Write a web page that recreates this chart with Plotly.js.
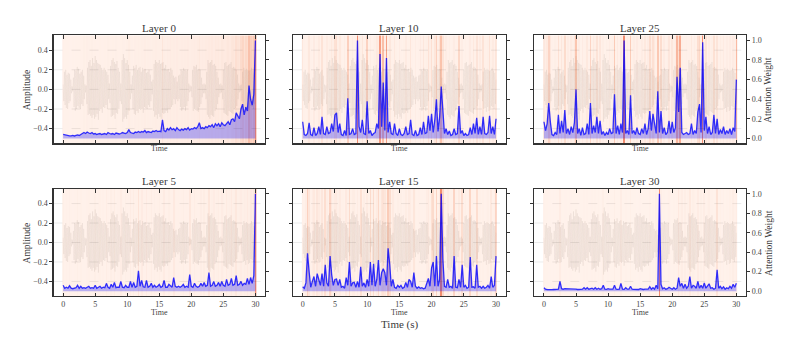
<!DOCTYPE html>
<html>
<head>
<meta charset="utf-8">
<script src="https://cdn.plot.ly/plotly-3.0.1.min.js"></script>
<style>
  body { margin: 0; background: #fff; }
  #chart { width: 793px; height: 340px; }
</style>
</head>
<body>
<div id="chart"></div>
<script>
// time steps (s) of the two series
const waveStep = 0.1;
const attnStep = 0.25;

// audio waveform, 0..30 s every 0.1 s (shared by all panels)
const waveform = [
  0.05,-0.12,0.18,-0.16,0.2,-0.19,0.15,-0.2,0.17,-0.14,
  0.16,-0.12,0.1,-0.04,0.03,-0.02,0.12,-0.18,0.2,-0.22,
  0.19,-0.2,0.23,-0.17,0.21,-0.19,0.16,-0.2,0.18,-0.15,
  0.2,-0.17,0.14,-0.1,0.05,-0.03,0.04,-0.15,0.22,-0.26,
  0.28,-0.25,0.3,-0.27,0.24,-0.29,0.32,-0.26,0.27,-0.3,
  0.34,-0.28,0.3,-0.25,0.27,-0.31,0.26,-0.22,0.25,-0.2,
  0.22,-0.24,0.2,-0.18,0.22,-0.19,0.2,-0.16,0.18,-0.2,
  0.15,-0.1,0.06,-0.14,0.24,-0.28,0.3,-0.27,0.32,-0.26,
  0.28,-0.3,0.26,-0.24,0.29,-0.25,0.22,-0.2,0.18,-0.12,
  0.06,-0.15,0.3,-0.33,0.36,-0.3,0.32,-0.28,0.27,-0.3,
  0.3,-0.26,0.25,-0.22,0.18,-0.1,0.05,-0.04,0.14,-0.2,
  0.24,-0.25,0.22,-0.26,0.25,-0.22,0.2,-0.24,0.22,-0.2,
  0.23,-0.21,0.18,-0.2,0.22,-0.24,0.2,-0.18,0.21,-0.19,
  0.17,-0.2,0.18,-0.16,0.2,-0.18,0.15,-0.12,0.08,-0.05,
  0.1,-0.22,0.26,-0.28,0.3,-0.26,0.28,-0.3,0.27,-0.25,
  0.3,-0.28,0.26,-0.3,0.27,-0.24,0.28,-0.25,0.22,-0.24,
  0.25,-0.22,0.2,-0.24,0.21,-0.2,0.18,-0.2,0.22,-0.18,
  0.2,-0.16,0.14,-0.1,0.12,-0.15,0.13,-0.1,0.08,-0.12,
  0.14,-0.1,0.15,-0.18,0.2,-0.22,0.19,-0.2,0.22,-0.18,
  0.2,-0.22,0.19,-0.17,0.2,-0.12,0.06,-0.03,0.04,-0.02,
  0.03,-0.08,0.2,-0.22,0.24,-0.2,0.23,-0.21,0.25,-0.22,
  0.2,-0.23,0.21,-0.18,0.2,-0.15,0.12,-0.08,0.05,-0.04,
  0.06,-0.04,0.05,-0.1,0.18,-0.26,0.3,-0.28,0.27,-0.3,
  0.28,-0.26,0.3,-0.27,0.25,-0.28,0.26,-0.22,0.24,-0.2,
  0.18,-0.15,0.12,-0.08,0.05,-0.04,0.06,-0.03,0.04,-0.1,
  0.2,-0.24,0.27,-0.25,0.28,-0.26,0.24,-0.27,0.25,-0.22,
  0.26,-0.23,0.28,-0.24,0.22,-0.25,0.23,-0.2,0.22,-0.19,
  0.2,-0.17,0.15,-0.1,0.06,-0.03,0.04,-0.02,0.05,-0.12,
  0.18,-0.2,0.22,-0.19,0.2,-0.23,0.21,-0.18,0.2,-0.22,
  0.19,-0.21,0.2,-0.17,0.22,-0.18,0.19,-0.2,0.17,-0.15,
  0.1
];

// attention weights per layer, 0..30 s every 0.25 s
const att0 = [
  0.04,0.035,0.03,0.03,0.025,0.025,0.03,0.025,0.03,0.035,0.03,0.04,
  0.045,0.06,0.05,0.065,0.055,0.05,0.06,0.045,0.05,0.04,0.045,0.05,
  0.04,0.045,0.05,0.04,0.06,0.05,0.045,0.05,0.04,0.055,0.05,0.045,
  0.05,0.06,0.055,0.05,0.06,0.09,0.06,0.055,0.05,0.065,0.06,0.07,
  0.06,0.07,0.065,0.08,0.06,0.07,0.065,0.06,0.075,0.07,0.08,0.07,
  0.075,0.07,0.19,0.08,0.07,0.1,0.085,0.11,0.09,0.1,0.08,0.11,
  0.09,0.08,0.095,0.085,0.1,0.09,0.11,0.085,0.1,0.095,0.11,0.1,
  0.12,0.16,0.1,0.11,0.1,0.12,0.11,0.13,0.12,0.14,0.11,0.15,
  0.13,0.15,0.12,0.16,0.14,0.13,0.15,0.17,0.14,0.19,0.2,0.17,
  0.26,0.22,0.2,0.3,0.35,0.24,0.32,0.28,0.54,0.4,0.34,0.45,
  1.0
];
const att5 = [
  0.06,0.03,0.04,0.03,0.055,0.03,0.025,0.03,0.035,0.06,0.03,0.05,
  0.03,0.035,0.03,0.04,0.05,0.03,0.035,0.03,0.06,0.03,0.04,0.05,
  0.03,0.04,0.035,0.08,0.04,0.03,0.07,0.04,0.09,0.035,0.04,0.04,
  0.1,0.04,0.035,0.06,0.04,0.04,0.1,0.04,0.09,0.04,0.05,0.21,
  0.05,0.11,0.045,0.04,0.11,0.04,0.05,0.08,0.04,0.06,0.04,0.05,
  0.07,0.04,0.05,0.11,0.04,0.04,0.07,0.05,0.04,0.14,0.05,0.04,
  0.05,0.04,0.05,0.07,0.04,0.05,0.04,0.17,0.05,0.04,0.08,0.05,
  0.04,0.05,0.08,0.05,0.09,0.05,0.06,0.19,0.05,0.06,0.1,0.05,
  0.06,0.09,0.05,0.1,0.06,0.05,0.12,0.06,0.07,0.13,0.06,0.07,
  0.16,0.06,0.07,0.1,0.06,0.08,0.07,0.13,0.07,0.14,0.08,0.16,
  1.0
];
const att10 = [
  0.17,0.04,0.03,0.05,0.16,0.04,0.03,0.11,0.03,0.05,0.12,0.04,
  0.22,0.05,0.04,0.12,0.05,0.06,0.15,0.07,0.24,0.26,0.06,0.15,
  0.04,0.03,0.08,0.03,0.41,0.04,0.05,0.1,0.04,0.05,1.0,0.12,
  0.06,0.19,0.05,0.04,0.38,0.05,0.08,0.03,0.05,0.06,0.15,0.1,
  0.86,0.12,0.57,0.08,0.82,0.06,0.17,0.05,0.04,0.15,0.05,0.03,
  0.1,0.04,0.03,0.05,0.12,0.04,0.05,0.19,0.04,0.03,0.08,0.03,
  0.04,0.11,0.04,0.17,0.05,0.06,0.23,0.08,0.25,0.06,0.19,0.4,
  0.07,0.22,0.53,0.22,0.05,0.1,0.04,0.075,0.03,0.04,0.1,0.04,
  0.05,0.33,0.05,0.08,0.03,0.05,0.03,0.04,0.11,0.04,0.15,0.05,
  0.21,0.04,0.12,0.04,0.22,0.05,0.04,0.06,0.23,0.05,0.12,0.04,
  0.2
];
const att15 = [
  0.045,0.03,0.085,0.39,0.2,0.04,0.1,0.15,0.05,0.18,0.12,0.06,
  0.18,0.05,0.27,0.085,0.05,0.36,0.17,0.06,0.12,0.125,0.06,0.12,
  0.04,0.05,0.03,0.14,0.06,0.3,0.05,0.085,0.09,0.04,0.1,0.04,
  0.25,0.05,0.085,0.04,0.12,0.05,0.3,0.06,0.28,0.05,0.12,0.32,
  0.06,0.19,0.23,0.19,0.06,0.44,0.28,0.05,0.12,0.04,0.03,0.06,
  0.04,0.06,0.03,0.04,0.09,0.04,0.12,0.1,0.04,0.19,0.05,0.03,
  0.045,0.03,0.035,0.025,0.03,0.085,0.13,0.05,0.24,0.3,0.05,0.36,
  0.05,0.12,1.0,0.33,0.05,0.04,0.12,0.04,0.05,0.03,0.36,0.04,
  0.035,0.12,0.04,0.27,0.04,0.06,0.03,0.04,0.35,0.04,0.045,0.03,
  0.27,0.04,0.05,0.03,0.05,0.03,0.04,0.06,0.03,0.15,0.04,0.06,
  0.36
];
const att25 = [
  0.17,0.08,0.15,0.36,0.17,0.04,0.03,0.06,0.04,0.24,0.05,0.18,
  0.06,0.29,0.05,0.1,0.04,0.12,0.06,0.16,0.5,0.05,0.1,0.03,
  0.11,0.04,0.05,0.15,0.04,0.36,0.05,0.13,0.06,0.22,0.05,0.18,
  0.04,0.07,0.03,0.06,0.04,0.1,0.05,0.06,0.45,0.05,0.13,0.04,
  0.15,0.06,1.0,0.05,0.08,0.04,0.44,0.05,0.08,0.04,0.11,0.05,
  0.04,0.1,0.05,0.15,0.04,0.1,0.28,0.08,0.25,0.15,0.05,0.48,
  0.06,0.28,0.05,0.11,0.04,0.06,0.18,0.05,0.17,0.06,0.11,0.63,
  0.27,0.72,0.06,0.04,0.05,0.06,0.04,0.05,0.15,0.04,0.08,0.05,
  0.27,0.35,0.06,0.98,0.08,0.22,0.05,0.12,0.04,0.06,0.24,0.05,
  0.2,0.04,0.09,0.05,0.12,0.04,0.08,0.05,0.1,0.04,0.11,0.07,
  0.6
];
const att30 = [
  0.035,0.02,0.017,0.015,0.018,0.015,0.017,0.015,0.018,0.02,0.1,0.025,
  0.02,0.025,0.025,0.02,0.022,0.025,0.02,0.018,0.02,0.017,0.015,0.018,
  0.02,0.035,0.02,0.035,0.02,0.025,0.03,0.02,0.035,0.02,0.03,0.02,
  0.025,0.06,0.02,0.018,0.025,0.02,0.017,0.02,0.06,0.02,0.018,0.02,
  0.08,0.02,0.018,0.035,0.02,0.02,0.05,0.02,0.018,0.017,0.015,0.017,
  0.025,0.018,0.017,0.02,0.018,0.02,0.045,0.02,0.035,0.02,0.06,0.025,
  1.0,0.07,0.025,0.035,0.02,0.025,0.04,0.025,0.02,0.035,0.02,0.03,
  0.14,0.05,0.08,0.03,0.07,0.03,0.05,0.15,0.03,0.06,0.05,0.03,
  0.1,0.03,0.06,0.03,0.085,0.03,0.05,0.075,0.03,0.035,0.02,0.03,
  0.22,0.03,0.05,0.025,0.045,0.02,0.035,0.025,0.05,0.03,0.07,0.04,
  0.08
];

// panels in reading order (2 rows x 3 cols)
const panelTitles = ['Layer 0', 'Layer 10', 'Layer 25', 'Layer 5', 'Layer 15', 'Layer 30'];
const panelAttn = [att0, att10, att25, att5, att15, att30];

const timeTicks = [0, 5, 10, 15, 20, 25, 30];
const ampTicks = [-0.4, -0.2, 0, 0.2, 0.4];
const attTicks = [0, 0.2, 0.4, 0.6, 0.8, 1.0];

const colDom = [[0.0675, 0.3342], [0.3695, 0.6377], [0.6738, 0.9407]];
const rowDom = [[0.5785, 0.8956], [0.1294, 0.4441]];
const titleY = [0.919, 0.468];
const timeY = [0.563, 0.081];

const serif = 'Liberation Serif, Times New Roman, serif';
const heatScale = [
  [0, '#fff3ed'], [0.2, '#fde5da'], [0.5, '#fbc6b0'], [1, '#f28c6f']
];

function axId(letter, n) { return n === 1 ? letter : letter + n; }

var data = [];
var layout = {
  width: 793, height: 340,
  margin: {l: 0, r: 0, t: 0, b: 0},
  paper_bgcolor: '#fff', plot_bgcolor: 'rgba(0,0,0,0)',
  showlegend: false,
  font: {family: serif, size: 8, color: '#333'},
  annotations: [], shapes: []
};

for (let i = 0; i < panelTitles.length; i++) {
  const r = Math.floor(i / 3), c = i % 3;
  const xa = axId('x', i + 1), yl = axId('y', 2 * i + 1), yr = axId('y', 2 * i + 2);

  // attention heatmap behind everything
  data.push({
    type: 'heatmap', z: [panelAttn[i]], x0: 0, dx: attnStep, y0: 0, dy: 2,
    zmin: 0, zmax: 1, colorscale: heatScale, showscale: false,
    xaxis: xa, yaxis: yl, hoverinfo: 'skip'
  });
  // faint waveform
  data.push({
    type: 'scatter', mode: 'lines', y: waveform, x0: 0, dx: waveStep,
    line: {color: 'rgba(130,115,105,0.11)', width: 0.7},
    xaxis: xa, yaxis: yl, hoverinfo: 'skip'
  });
  // attention weights on the twin axis
  data.push({
    type: 'scatter', mode: 'lines', y: panelAttn[i], x0: 0, dx: attnStep,
    line: {color: 'rgba(0,0,255,0.78)', width: 1.3},
    fill: 'tozeroy', fillcolor: 'rgba(0,0,255,0.28)',
    xaxis: xa, yaxis: yr, hoverinfo: 'skip'
  });

  layout['xaxis' + (i === 0 ? '' : i + 1)] = {
    domain: colDom[c], anchor: yl, range: [-1.5, 31.5],
    tickvals: timeTicks, showticklabels: r === 1,
    ticks: 'inside', ticklen: 3.5, tickcolor: '#333', tickwidth: 1,
    showline: true, mirror: 'ticks', linecolor: '#333', linewidth: 1.2,
    showgrid: false, zeroline: false,
    tickfont: {family: serif, size: 8, color: '#444'}
  };
  layout['yaxis' + (2 * i === 0 ? '' : 2 * i + 1)] = {
    domain: rowDom[r], anchor: xa, range: [-0.55, 0.55],
    tickvals: ampTicks, tickformat: '.1f', showticklabels: c === 0,
    ticks: 'outside', ticklen: 3, tickcolor: '#333',
    showline: true, linecolor: '#333', linewidth: 1.2,
    showgrid: false, zeroline: false,
    tickfont: {family: serif, size: 8, color: '#444'}
  };
  layout['yaxis' + (2 * i + 2)] = {
    overlaying: yl, side: 'right', anchor: xa, range: [-0.05, 1.05],
    tickvals: attTicks, tickformat: '.1f', showticklabels: c === 2,
    ticks: 'outside', ticklen: 3, tickcolor: '#333',
    showline: true, linecolor: '#333', linewidth: 1.2,
    showgrid: false, zeroline: false,
    tickfont: {family: serif, size: 8, color: '#444'}
  };

  // dashed grid over the heatmap
  ampTicks.forEach(v => {
    layout.shapes.push({
      type: 'line', xref: xa + ' domain', yref: yl, x0: 0, x1: 1, y0: v, y1: v,
      line: {color: 'rgba(0,0,0,0.1)', width: 0.8, dash: 'dash'}, layer: 'above'
    });
  });

  const cx = (colDom[c][0] + colDom[c][1]) / 2;
  layout.annotations.push({
    text: panelTitles[i], xref: 'paper', yref: 'paper', x: cx, y: titleY[r],
    showarrow: false, xanchor: 'center', yanchor: 'middle',
    font: {family: serif, size: 11, color: '#3a3a3a', weight: 'normal'}
  });
  layout.annotations.push({
    text: 'Time', xref: 'paper', yref: 'paper', x: cx, y: timeY[r],
    showarrow: false, xanchor: 'center', yanchor: 'middle',
    font: {family: serif, size: 8, color: '#444', weight: 'normal'}
  });
  const cy = (rowDom[r][0] + rowDom[r][1]) / 2;
  if (c === 0) {
    layout.annotations.push({
      text: 'Amplitude', xref: 'paper', yref: 'paper', x: 0.034, y: cy,
      showarrow: false, textangle: -90, xanchor: 'center', yanchor: 'middle',
      font: {family: serif, size: 9.5, color: '#3a3a3a', weight: 'normal'}
    });
  }
  if (c === 2) {
    layout.annotations.push({
      text: 'Attention Weight', xref: 'paper', yref: 'paper', x: 0.969, y: cy,
      showarrow: false, textangle: -90, xanchor: 'center', yanchor: 'middle',
      font: {family: serif, size: 9.5, color: '#3a3a3a', weight: 'normal'}
    });
  }
}

layout.annotations.push({
  text: 'Time (s)', xref: 'paper', yref: 'paper', x: 0.5044, y: 0.047,
  showarrow: false, xanchor: 'center', yanchor: 'middle',
  font: {family: serif, size: 11, color: '#3a3a3a', weight: 'normal'}
});

Plotly.newPlot('chart', data, layout, {staticPlot: true});
</script>
</body>
</html>
